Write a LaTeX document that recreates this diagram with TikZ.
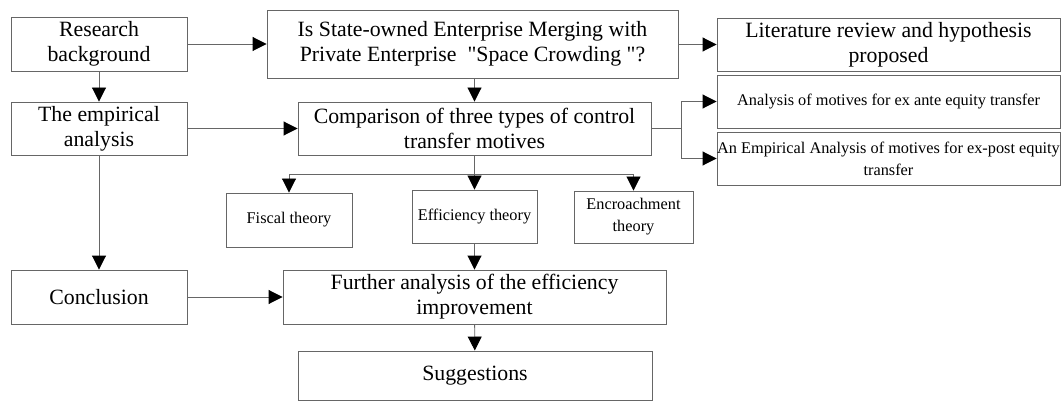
\documentclass[tikz,border=0pt]{standalone}
\usepackage{fontspec}
\setmainfont{Liberation Serif}
\usetikzlibrary{arrows.meta}
% straight double quote, set as a glyph so no text mapping turns it curly
\newcommand\straightquote{\XeTeXglyph\the\XeTeXcharglyph"22\relax}
\begin{document}
\begin{tikzpicture}[x=1pt,y=-1pt,
  box/.style={draw=black!60, line width=0.9pt, inner sep=0pt, align=center,
    font=\fontsize{21.8}{25}\selectfont},
  smallbox/.style={box, font=\fontsize{16.3}{22}\selectfont},
  link/.style={draw=black!60, line width=0.9pt},
  arr/.style={link, -{Triangle[length=14pt,width=14pt,color=black]}}]
\useasboundingbox (0,0) rectangle (1061,401);
% left column
\node[box, minimum width=176, minimum height=54] (rb) at (99,44) {Research\\background};
\node[box, minimum width=176, minimum height=53] (ea) at (99,128.5) {The empirical\\analysis};
\node[box, minimum width=176, minimum height=54] (con) at (99,297) {Conclusion};
% centre column
\node[box, minimum width=411, minimum height=68] (is) at (472.5,44)
  {Is State-owned Enterprise Merging with\\Private Enterprise\ \ \straightquote Space Crowding \straightquote?};
\node[box, minimum width=353, minimum height=53] (cmp) at (474.5,128.5)
  {Comparison of three types of control\\transfer motives};
\node[smallbox, minimum width=126, minimum height=54] (fis) at (289,220) {Fiscal theory};
\node[smallbox, minimum width=125, minimum height=53] (eff) at (474.5,216.5) {Efficiency theory};
\node[smallbox, minimum width=119, minimum height=52] (enc) at (633.5,217) {Encroachment\\theory};
\node[box, minimum width=383, minimum height=54] (fur) at (474.5,297)
  {Further analysis of the efficiency\\improvement};
\node[box, minimum width=354, minimum height=49] (sug) at (475,375.5) {Suggestions};
% right column
\node[box, minimum width=343, minimum height=53] (lit) at (888.5,44.5)
  {Literature review and hypothesis\\proposed};
\node[smallbox, minimum width=343, minimum height=53] (ante) at (888.5,101.5)
  {Analysis of motives for ex ante equity transfer};
\node[smallbox, minimum width=343, minimum height=53] (post) at (888.5,158.5)
  {An Empirical Analysis of motives for ex-post equity\\transfer};
% connectors
\draw[arr] (rb) -- (is.west |- rb);
\draw[arr] (is.east |- lit) -- (lit);
\draw[arr] (rb) -- (ea);
\draw[arr] (ea) -- (cmp.west |- ea);
\draw[arr] (ea) -- (con);
\draw[arr] (con) -- (fur.west |- con);
\draw[arr] (is.south -| cmp) -- (cmp);
\coordinate (fork) at (681,128.5);
\draw[link] (cmp.east) -- (fork);
\draw[arr] (fork) |- (ante.west);
\draw[arr] (fork) |- (post.west);
\coordinate (split) at (474.5,174);
\draw[arr] (cmp) -- (eff);
\draw[arr] (split) -| (fis.north);
\draw[arr] (split) -| (enc.north);
\draw[arr] (eff) -- (fur);
\draw[arr] (fur) -- (sug);
\end{tikzpicture}
\end{document}
